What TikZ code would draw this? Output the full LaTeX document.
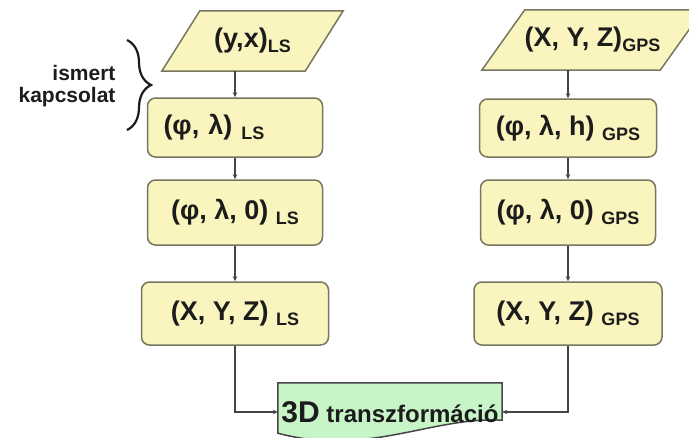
\documentclass[tikz,border=0pt]{standalone}
\usepackage{fontspec}
\setmainfont{Liberation Sans}
\definecolor{boxfill}{HTML}{FAF5BE}
\definecolor{boxline}{HTML}{77775F}
\definecolor{trfill}{HTML}{C8F5C8}
\definecolor{wirecol}{HTML}{454545}
\definecolor{ink}{HTML}{1C1C1C}
\usepackage{tikz}
\usetikzlibrary{arrows.meta,decorations.pathreplacing,backgrounds}
\newcommand{\ix}[1]{\raisebox{-5pt}{\fontsize{18}{18}\selectfont #1}}

\begin{document}
\begin{tikzpicture}[x=1pt,y=-1pt,
    coord/.style={draw=boxline,fill=boxfill,line width=1.5pt,rounded corners=8pt,
      text=ink,font=\fontsize{27}{30}\selectfont\bfseries,inner sep=0pt},
    given/.style={text=ink,font=\fontsize{27}{30}\selectfont\bfseries,inner sep=0pt,
      minimum height=60pt},
    wire/.style={draw=wirecol,line width=1.6pt,-{Stealth[length=5pt,width=4.5pt]}}]
  \useasboundingbox (0,0) rectangle (689,437);

  % LS side
  \node[given,minimum width=181pt] (pLS) at (252.5,41) {(y,x)\ix{LS}};
  \node[coord,minimum height=59pt,text width=143pt,inner xsep=16pt,align=left] (bLS1) at (235,127.5) {(φ, λ) \ix{LS}};
  \node[coord,minimum width=175pt,minimum height=65pt] (bLS2) at (235,212.5) {(φ, λ, 0) \ix{LS}};
  \node[coord,minimum width=187pt,minimum height=63pt] (bLS3) at (235,313.5) {(X, Y, Z) \ix{LS}};

  % GPS side
  \node[given,minimum width=221pt] (pG) at (592.5,40) {(X, Y, Z)\ix{GPS}};
  \node[coord,minimum width=177pt,minimum height=58pt] (bG1) at (568,128) {(φ, λ, h) \ix{GPS}};
  \node[coord,minimum width=175pt,minimum height=65pt] (bG2) at (568,212.5) {(φ, λ, 0) \ix{GPS}};
  \node[coord,minimum width=188pt,minimum height=63pt] (bG3) at (568,313.5) {(X, Y, Z) \ix{GPS}};

  % transformation (document shape)
  \node[text=ink,font=\fontsize{24}{26}\selectfont\bfseries,minimum width=224pt,minimum height=58pt,inner sep=0pt]
    (tr) at (390,412) {{\fontsize{30}{30}\selectfont 3D} transzformáció};

  \begin{scope}[on background layer]
    % slanted input boxes
    \foreach \p/\s in {pLS/38,pG/43}
      \draw[draw=boxline,fill=boxfill,line width=1.5pt]
        (\p.south west) -- ([xshift=-\s pt]\p.south east) -- (\p.north east)
        -- ([xshift=\s pt]\p.north west) -- cycle;
    \draw[draw=wirecol,fill=trfill,line width=1.5pt]
      (tr.north west) -- (tr.north east) -- ([yshift=21pt]tr.south east)
      .. controls ([xshift=-70pt,yshift=25pt]tr.south east) and ([xshift=90pt,yshift=-16pt]tr.south west)
      .. ([yshift=8pt]tr.south west) -- cycle;
  \end{scope}

  % brace with label
  \draw[draw=ink,line width=2.2pt,decorate,decoration={brace,amplitude=24pt}] (127,40) -- (127,130);
  \node[text=ink,font=\fontsize{21}{22}\selectfont\bfseries,align=right,anchor=east] (known) at (119,86) {ismert\\kapcsolat};

  % connectors
  \draw[wire] (bLS1.north |- pLS.south) -- (bLS1.north);
  \draw[wire] (bLS1.south) -- (bLS2.north);
  \draw[wire] (bLS2.south) -- (bLS3.north);
  \draw[wire] (bG1.north |- pG.south) -- (bG1.north);
  \draw[wire] (bG1.south) -- (bG2.north);
  \draw[wire] (bG2.south) -- (bG3.north);
  \draw[wire] (bLS3.south) |- (tr.west);
  \draw[wire] (bG3.south) |- (tr.east);
\end{tikzpicture}
\end{document}
